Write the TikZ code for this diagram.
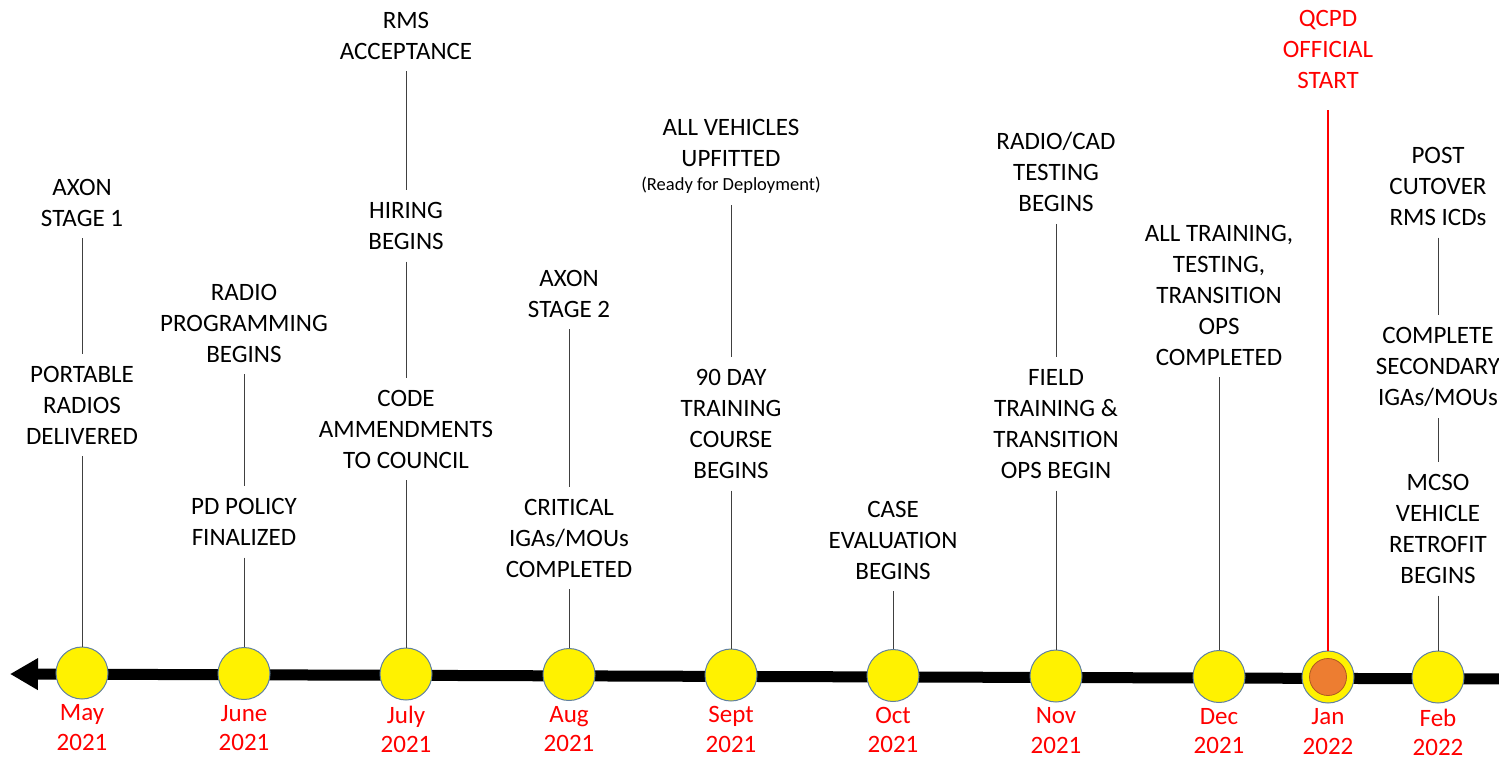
\documentclass[tikz,border=0pt]{standalone}
\usepackage{fontspec}
\setmainfont{Carlito}
\usepackage{tikz}
\usetikzlibrary{positioning}
\usetikzlibrary{shapes.geometric, arrows.meta}
\definecolor{rimblue}{RGB}{96,128,160}
\definecolor{startorange}{RGB}{237,125,49}
\definecolor{startrim}{RGB}{174,90,33}
\definecolor{linkgray}{RGB}{64,64,64}
\tikzstyle{milestone} = [circle, minimum size=52pt, inner sep=0pt, fill=yellow, draw=rimblue, line width=1pt]
\tikzstyle{event} = [align=center, inner sep=0pt, outer ysep=12pt, font=\fontsize{25}{31}\selectfont]
\tikzstyle{month} = [align=center, inner sep=0pt, text=red, font=\fontsize{25}{29.5}\selectfont]
\tikzstyle{link} = [draw=linkgray, line width=0.9pt]
\tikzstyle{timeline} = [line width=11pt, -{Triangle[length=28pt,width=30pt]}]

\begin{document}
\begin{tikzpicture}[x=1pt, y=-1pt, node distance=5pt]

\clip (0,0) rectangle (1499,760);


% Time line

	\coordinate (lineEnd) at (1510,679);
	\coordinate (lineTip) at (10,674);
	\draw [timeline] (lineEnd) -- (lineTip);


% Months

	\node (may) [milestone] at (82,673) {};
	\node (june) [milestone] at (244,673.5) {};
	\node (july) [milestone] at (406,674) {};
	\node (aug) [milestone] at (569,674.5) {};
	\node (sept) [milestone] at (731,675) {};
	\node (oct) [milestone] at (893,675.5) {};
	\node (nov) [milestone] at (1056,676) {};
	\node (dec) [milestone] at (1219,676.5) {};
	\node (jan) [milestone] at (1328,677) {};
	\node (janStart) [circle, minimum size=37pt, fill=startorange, draw=startrim, line width=0.8pt] at (jan) {};
	\node (feb) [milestone] at (1438,677) {};

	\node (mayLabel) [month, below=of may] {May\\2021};
	\node (juneLabel) [month, below=of june] {June\\2021};
	\node (julyLabel) [month, below=of july] {July\\2021};
	\node (augLabel) [month, below=of aug] {Aug\\2021};
	\node (septLabel) [month, below=of sept] {Sept\\2021};
	\node (octLabel) [month, below=of oct] {Oct\\2021};
	\node (novLabel) [month, below=of nov] {Nov\\2021};
	\node (decLabel) [month, below=of dec] {Dec\\2021};
	\node (janLabel) [month, below=of jan] {Jan\\2022};
	\node (febLabel) [month, below=of feb] {Feb\\2022};


% May

	\node (axonOne) [event] at (82,202.5) {AXON\\STAGE 1};
	\node (portable) [event] at (82,405) {PORTABLE\\RADIOS\\DELIVERED};


% June

	\node (radioProg) [event] at (244,323) {RADIO\\PROGRAMMING\\BEGINS};
	\node (pdPolicy) [event] at (244,522) {PD POLICY\\FINALIZED};


% July

	\node (rms) [event] at (406,35.5) {RMS\\ACCEPTANCE};
	\node (hiring) [event] at (406,226) {HIRING\\BEGINS};
	\node (code) [event] at (406,429) {CODE\\AMMENDMENTS\\TO COUNCIL};


% Aug

	\node (axonTwo) [event] at (569,293.5) {AXON\\STAGE 2};
	\node (critical) [event] at (569,538) {CRITICAL\\IGAs/MOUs\\COMPLETED};


% Sept

	\node (vehicles) [event] at (731,143) {ALL VEHICLES\\UPFITTED};
	\node (ready) [event, font=\fontsize{18.5}{22}\selectfont] at (731,185) {(Ready for Deployment)};
	\node (trainingNinety) [event] at (731,424) {90 DAY\\TRAINING\\COURSE\\BEGINS};


% Oct

	\node (caseEval) [event] at (893,540) {CASE\\EVALUATION\\BEGINS};


% Nov

	\node (radioCad) [event] at (1056,172) {RADIO/CAD\\TESTING\\BEGINS};
	\node (fieldTraining) [event] at (1056,424) {FIELD\\TRAINING \&\\TRANSITION\\OPS BEGIN};


% Dec

	\node (allTraining) [event] at (1219,295) {ALL TRAINING,\\TESTING,\\TRANSITION\\OPS\\COMPLETED};


% Jan

	\node (qcpd) [event, text=red] at (1328,49) {QCPD\\OFFICIAL\\START};


% Feb

	\node (postCutover) [event] at (1438,186.5) {POST\\CUTOVER\\RMS ICDs};
	\node (secondary) [event] at (1438,366.5) {COMPLETE\\SECONDARY\\IGAs/MOUs};
	\node (retrofit) [event] at (1438,529) {MCSO\\VEHICLE\\RETROFIT\\BEGINS};




% Event links
	\draw [link] (axonOne) -- (portable);
	\draw [link] (portable) -- (may);

	\draw [link] (radioProg) -- (pdPolicy);
	\draw [link] (pdPolicy) -- (june);

	\draw [link] (rms) -- (hiring);
	\draw [link] (hiring) -- (code);
	\draw [link] (code) -- (july);

	\draw [link] (axonTwo) -- (critical);
	\draw [link] (critical) -- (aug);

	\draw [link] (ready) -- (trainingNinety);
	\draw [link] (trainingNinety) -- (sept);

	\draw [link] (caseEval) -- (oct);

	\draw [link] (radioCad) -- (fieldTraining);
	\draw [link] (fieldTraining) -- (nov);

	\draw [link] (allTraining) -- (dec);

	\draw [link] (postCutover) -- (secondary);
	\draw [link] (secondary) -- (retrofit);
	\draw [link] (retrofit) -- (feb);


% Official start
	\draw [red, line width=1.6pt, shorten <=10pt] (qcpd) -- (jan);


\end{tikzpicture}
\end{document}
